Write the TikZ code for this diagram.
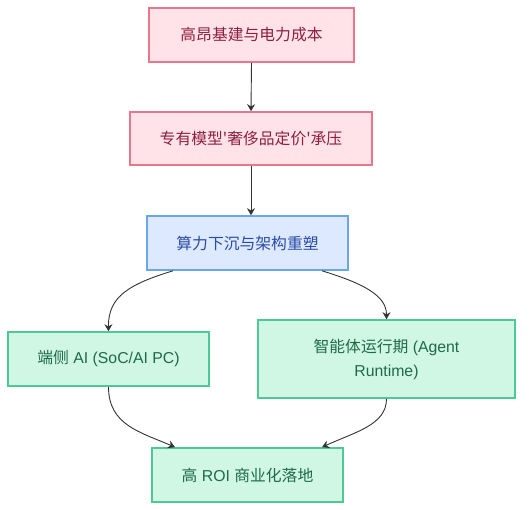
\documentclass[tikz,border=0pt]{standalone}
\usepackage{fontspec}
\setmainfont{Liberation Sans}
\newfontfamily\cjk{Noto Sans CJK SC}
\usetikzlibrary{arrows.meta}
\definecolor{pinkfill}{HTML}{FFE3E8}
\definecolor{pinkline}{HTML}{E8778C}
\definecolor{pinktext}{HTML}{8E1F43}
\definecolor{bluefill}{HTML}{DCE9FE}
\definecolor{blueline}{HTML}{6CA6EA}
\definecolor{bluetext}{HTML}{2B4CA6}
\definecolor{greenfill}{HTML}{D0F7E4}
\definecolor{greenline}{HTML}{4DC897}
\definecolor{greentext}{HTML}{1F6A4B}
\definecolor{edgecol}{HTML}{333333}
\begin{document}
\begin{tikzpicture}[x=1pt,y=-1pt,
  box/.style={draw, line width=1.6pt, inner sep=0pt, font=\fontsize{15.8}{24}\selectfont, align=center},
  pinkbox/.style={box, fill=pinkfill, draw=pinkline, text=pinktext},
  bluebox/.style={box, fill=bluefill, draw=blueline, text=bluetext},
  greenbox/.style={box, fill=greenfill, draw=greenline, text=greentext},
  edge/.style={draw=edgecol, line width=0.9pt, -{Stealth[length=7pt,width=8pt]}}]
\useasboundingbox (0,0) rectangle (530,510);
\node[pinkbox, minimum width=205pt, minimum height=54pt] (a) at (251.5,35) {\cjk 高昂基建与电力成本};
\node[pinkbox, minimum width=242pt, minimum height=53pt] (b) at (251,138.5) {\cjk 专有模型'奢侈品定价'承压};
\node[bluebox, minimum width=201pt, minimum height=54pt] (c) at (247.5,243) {\cjk 算力下沉与架构重塑};
\node[greenbox, minimum width=201pt, minimum height=54pt] (d) at (108.5,359) {{\cjk 端侧} AI (SoC/AI PC)};
\node[greenbox, minimum width=257pt, minimum height=78pt] (e) at (386.5,359) {{\cjk 智能体运行期} (Agent\\Runtime)};
\node[greenbox, minimum width=191pt, minimum height=54pt] (f) at (247.5,475) {{\cjk 高} ROI {\cjk 商业化落地}};
\draw[edge] (a.south) -- (b.north);
\draw[edge] (b.south) -- (c.north -| b.south);
\draw[edge] (c.south -| 173,0) .. controls (130,284) and (108,296) .. (d.north);
\draw[edge] (c.south -| 322,0) .. controls (365,284) and (386.5,296) .. (e.north);
\draw[edge] (d.south) .. controls (108.5,425) and (140,432) .. (f.north -| 175,0);
\draw[edge] (e.south) .. controls (386.5,425) and (355,432) .. (f.north -| 322,0);
\end{tikzpicture}
\end{document}
